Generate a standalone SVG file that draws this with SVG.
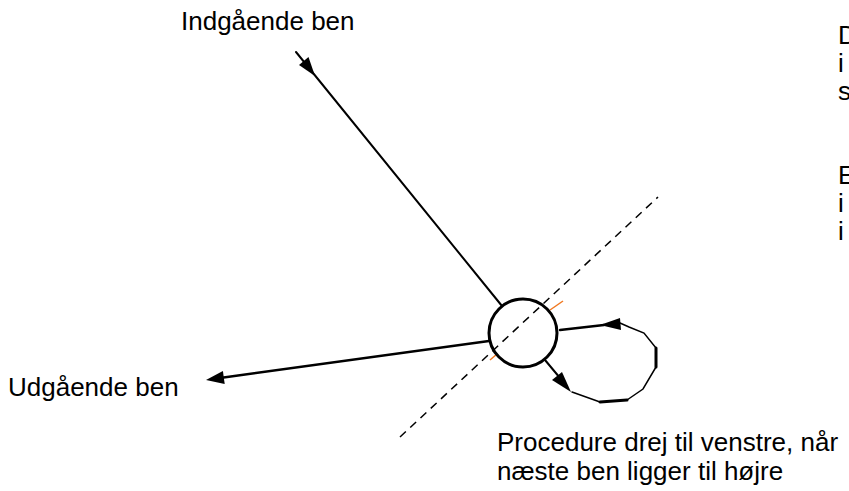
<svg xmlns="http://www.w3.org/2000/svg" width="849" height="491" viewBox="0 0 849 491">
<style>
.t{font-family:"Liberation Sans",Arial,sans-serif;font-size:26px;fill:#000}
.ln{stroke:#000;fill:none;stroke-linecap:round}
.ah{fill:#000;stroke:none}
</style>
<rect width="849" height="491" fill="#fff"/>
<g id="connectors">
<line class="ln" x1="296" y1="52" x2="502" y2="306" stroke-width="2"/>
<polygon class="ah" points="315,76 299,65 308.5,57"/>
<line class="ln" x1="489" y1="341" x2="220" y2="378" stroke-width="2.5"/>
<polygon class="ah" points="206,380 224.7,384 222.9,371"/>
<line x1="400" y1="437" x2="658" y2="197" stroke="#000" stroke-width="1.5" stroke-dasharray="8,6"/>
<line x1="550" y1="310" x2="563" y2="301" stroke="#f07820" stroke-width="1.5"/>
<line x1="490" y1="360" x2="497" y2="354" stroke="#f07820" stroke-width="1.5"/>
<line class="ln" x1="560" y1="330" x2="604" y2="325" stroke-width="2.5"/>
<polygon class="ah" points="600,325 620,318 621,330"/>
<polyline class="ln" points="620,323 629,327 644,333 656,348" stroke-width="1.5"/>
<line class="ln" x1="656" y1="348" x2="656" y2="367" stroke-width="3"/>
<polyline class="ln" points="656,367 643,389 627,400" stroke-width="1.5"/>
<line class="ln" x1="627" y1="400" x2="600" y2="402" stroke-width="3"/>
<line class="ln" x1="600" y1="402" x2="572" y2="392" stroke-width="1.5"/>
<line class="ln" x1="545" y1="360" x2="560" y2="378" stroke-width="2"/>
<polygon class="ah" points="571,392 552,380 562,372"/>
</g>
<g id="node">
<circle cx="523" cy="333" r="34" fill="none" stroke="#000" stroke-width="3"/>
</g>
<g id="labels">
<text class="t" x="181" y="30">Indgående ben</text>
<text class="t" x="8" y="396">Udgående ben</text>
<text class="t" x="497" y="451">Procedure drej til venstre, når</text>
<text class="t" x="497" y="480">næste ben ligger til højre</text>
<text class="t" x="838" y="44">D</text>
<text class="t" x="838" y="72">i</text>
<text class="t" x="838" y="100">s</text>
<text class="t" x="838" y="184">E</text>
<text class="t" x="838" y="212">i</text>
<text class="t" x="838" y="240">i</text>
</g>
</svg>
